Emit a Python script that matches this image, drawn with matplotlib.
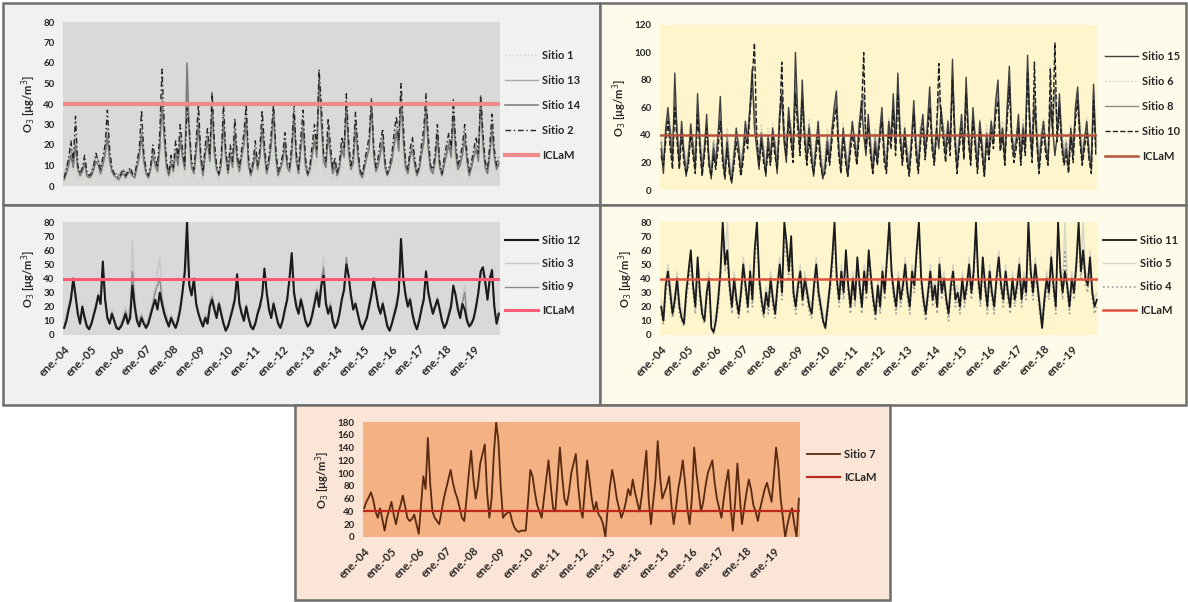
import matplotlib
matplotlib.use("Agg")
import matplotlib.pyplot as plt
from matplotlib.patches import Rectangle
import numpy as np

W, H = 1188, 602
plt.rcParams['font.family'] = ['Lato', 'DejaVu Sans']

# monthly values, ene.-04 ... dic.-19
year_labels = ['ene.-%02d' % y for y in range(4, 20)]
iclam = 40

sitio_1 = [2, 4, 7, 10, 6, 12, 5, 3, 4, 7, 3, 2,
           3, 5, 8, 7, 4, 6, 9, 14, 8, 4, 3, 2,
           2, 3, 4, 3, 4, 5, 3, 3, 6, 9, 15, 8,
           4, 3, 5, 10, 7, 4, 11, 22, 13, 5, 3, 7,
           4, 10, 6, 14, 8, 5, 20, 14, 5, 4, 10, 17,
           7, 3, 9, 13, 7, 20, 9, 4, 3, 6, 17, 8,
           4, 9, 5, 14, 7, 4, 8, 12, 18, 6, 3, 5,
           9, 4, 8, 16, 9, 3, 6, 11, 19, 8, 3, 5,
           7, 11, 5, 4, 9, 18, 7, 3, 10, 16, 6, 3,
           5, 9, 13, 8, 25, 17, 7, 5, 14, 9, 3, 6,
           3, 5, 10, 8, 21, 9, 4, 6, 16, 9, 3, 2,
           5, 8, 10, 19, 8, 4, 6, 9, 12, 5, 3, 4,
           7, 11, 14, 10, 22, 12, 5, 3, 8, 10, 6, 3,
           4, 8, 12, 20, 10, 4, 3, 7, 13, 5, 3, 6,
           8, 11, 8, 18, 9, 4, 6, 8, 12, 7, 3, 5,
           8, 10, 7, 20, 11, 5, 3, 8, 14, 8, 4, 6]
sitio_13 = [5, 9, 13, 18, 11, 24, 9, 6, 8, 12, 6, 5,
            7, 11, 14, 13, 9, 12, 17, 28, 15, 8, 6, 6,
            5, 7, 8, 6, 7, 8, 7, 6, 10, 15, 28, 14,
            7, 5, 9, 17, 12, 8, 20, 45, 26, 10, 6, 13,
            8, 18, 12, 26, 15, 9, 48, 27, 10, 7, 18, 34,
            14, 6, 17, 25, 13, 42, 18, 9, 6, 12, 35, 15,
            7, 17, 10, 28, 14, 8, 15, 23, 36, 12, 6, 10,
            18, 9, 15, 32, 17, 7, 12, 22, 38, 15, 6, 9,
            13, 22, 10, 8, 17, 36, 14, 7, 20, 32, 12, 6,
            9, 17, 25, 16, 54, 35, 14, 10, 28, 17, 7, 12,
            6, 10, 20, 16, 42, 18, 9, 13, 32, 17, 7, 5,
            10, 15, 20, 38, 17, 8, 12, 18, 25, 10, 6, 9,
            14, 22, 28, 19, 46, 25, 10, 7, 16, 20, 12, 6,
            9, 17, 24, 42, 20, 9, 7, 14, 27, 10, 6, 12,
            17, 22, 16, 38, 18, 9, 12, 17, 26, 14, 6, 10,
            16, 20, 14, 40, 22, 10, 7, 17, 30, 16, 9, 12]
sitio_14 = [3, 6, 10, 15, 9, 20, 8, 5, 7, 11, 5, 4,
            5, 8, 12, 10, 6, 10, 15, 24, 12, 7, 5, 4,
            3, 5, 6, 4, 6, 7, 5, 4, 9, 14, 25, 12,
            6, 4, 8, 15, 10, 7, 18, 40, 22, 9, 5, 11,
            7, 16, 10, 22, 14, 8, 60, 24, 9, 6, 16, 30,
            12, 5, 15, 22, 12, 38, 16, 8, 5, 10, 30, 14,
            6, 15, 9, 25, 12, 7, 14, 20, 32, 10, 5, 9,
            16, 8, 14, 28, 15, 6, 11, 20, 36, 14, 5, 8,
            12, 20, 9, 7, 15, 34, 12, 6, 18, 28, 10, 5,
            8, 15, 22, 14, 52, 30, 12, 9, 25, 15, 6, 10,
            5, 9, 18, 14, 40, 16, 8, 11, 28, 15, 6, 4,
            9, 14, 18, 42, 15, 7, 10, 16, 22, 9, 5, 8,
            12, 20, 26, 17, 44, 22, 9, 6, 14, 18, 10, 5,
            8, 15, 21, 38, 18, 8, 6, 12, 24, 9, 5, 10,
            15, 20, 14, 34, 16, 8, 10, 15, 23, 12, 5, 9,
            14, 18, 12, 44, 20, 9, 6, 15, 27, 14, 8, 11]
sitio_2 = [4, 8, 14, 22, 12, 34, 10, 6, 9, 15, 7, 5,
           6, 10, 16, 12, 8, 14, 20, 37, 18, 9, 6, 5,
           4, 6, 8, 5, 7, 9, 6, 5, 12, 18, 37, 16,
           8, 5, 10, 20, 14, 9, 26, 57, 30, 12, 6, 15,
           9, 22, 14, 30, 18, 10, 38, 28, 12, 8, 22, 40,
           16, 7, 20, 28, 15, 46, 22, 10, 6, 14, 40, 18,
           8, 20, 12, 33, 16, 9, 18, 26, 40, 14, 6, 12,
           22, 10, 18, 37, 20, 8, 14, 26, 40, 18, 7, 10,
           15, 26, 12, 9, 20, 40, 16, 8, 24, 37, 14, 6,
           10, 20, 30, 18, 57, 40, 16, 12, 33, 20, 8, 14,
           6, 12, 24, 18, 45, 22, 10, 15, 36, 20, 8, 5,
           12, 18, 24, 43, 20, 9, 14, 22, 28, 12, 6, 10,
           16, 26, 34, 22, 50, 30, 12, 8, 18, 24, 14, 6,
           10, 20, 28, 45, 24, 10, 8, 16, 30, 12, 6, 14,
           20, 26, 18, 42, 22, 10, 14, 20, 30, 16, 7, 12,
           18, 24, 16, 44, 26, 12, 8, 20, 35, 18, 10, 14]

sitio_15 = [30, 12, 45, 60, 38, 20, 85, 40, 18, 50, 25, 10,
            22, 48, 30, 15, 70, 35, 12, 28, 55, 20, 8, 30,
            18, 40, 68, 25, 10, 35, 15, 5, 22, 45, 30, 12,
            25, 50, 35, 60, 88, 45, 30, 15, 40, 25, 10, 38,
            20, 45, 30, 12, 55, 70, 35, 20, 60, 40, 25, 100,
            55, 30, 80, 40, 20, 45, 25, 10, 30, 50, 22, 8,
            15, 35, 20, 40, 60, 72, 30, 15, 45, 25, 10, 30,
            50, 35, 20, 45, 65, 40, 25, 55, 30, 12, 35, 20,
            40, 60, 25, 15, 50, 35, 70, 30, 85, 40, 20, 45,
            25, 12, 35, 65, 30, 15, 40, 55, 25, 48, 75, 35,
            20, 45, 30, 60, 40, 25, 50, 30, 95, 40, 15, 35,
            55, 25, 82, 40, 20, 60, 35, 15, 50, 30, 10, 40,
            25, 50, 35, 65, 80, 30, 45, 20, 60, 90, 40, 25,
            35, 55, 20, 45, 30, 98, 50, 25, 60, 40, 15, 35,
            50, 30, 20, 60, 45, 25, 40, 70, 35, 20, 30, 15,
            45, 25, 60, 75, 40, 20, 35, 50, 25, 15, 77, 30]
sitio_6 = [40, 28, 45, 58, 50, 35, 55, 48, 30, 50, 35, 22,
           32, 48, 40, 28, 62, 45, 25, 38, 52, 30, 18, 40,
           28, 42, 58, 35, 22, 45, 28, 15, 32, 45, 40, 25,
           35, 50, 45, 62, 70, 55, 45, 28, 48, 35, 22, 45,
           32, 48, 40, 25, 55, 90, 50, 35, 58, 50, 35, 75,
           55, 42, 72, 50, 35, 52, 35, 22, 40, 50, 32, 18,
           28, 45, 30, 50, 60, 68, 42, 28, 48, 35, 22, 40,
           50, 42, 30, 52, 62, 65, 38, 55, 40, 25, 45, 30,
           48, 58, 35, 28, 52, 45, 65, 40, 72, 50, 30, 48,
           35, 25, 42, 62, 40, 28, 50, 55, 35, 50, 65, 45,
           30, 50, 65, 58, 50, 35, 52, 40, 78, 50, 28, 42,
           55, 35, 70, 50, 30, 58, 45, 28, 52, 40, 22, 48,
           35, 52, 45, 62, 68, 40, 50, 32, 58, 75, 48, 35,
           42, 55, 30, 52, 40, 80, 52, 35, 65, 50, 28, 45,
           52, 38, 32, 90, 50, 70, 48, 62, 45, 32, 40, 28,
           48, 35, 58, 72, 50, 32, 42, 52, 35, 28, 62, 40]
sitio_8 = [35, 20, 40, 55, 45, 28, 65, 45, 25, 45, 30, 15,
           28, 42, 35, 20, 60, 40, 18, 32, 48, 25, 12, 35,
           22, 38, 55, 30, 15, 40, 20, 10, 28, 40, 35, 18,
           30, 45, 40, 58, 75, 60, 38, 22, 42, 30, 15, 40,
           25, 42, 35, 18, 50, 65, 45, 28, 55, 45, 30, 80,
           50, 35, 70, 45, 28, 48, 30, 15, 35, 45, 28, 12,
           20, 40, 25, 45, 55, 65, 35, 20, 42, 30, 15, 35,
           45, 38, 25, 48, 60, 70, 32, 50, 35, 18, 40, 25,
           42, 55, 30, 20, 48, 40, 62, 35, 75, 45, 25, 42,
           30, 18, 38, 60, 35, 20, 45, 50, 30, 45, 68, 40,
           25, 45, 70, 55, 45, 30, 48, 35, 85, 45, 20, 38,
           50, 30, 75, 45, 25, 55, 40, 20, 48, 35, 15, 42,
           30, 48, 40, 60, 72, 35, 45, 25, 55, 80, 42, 30,
           38, 50, 25, 48, 35, 88, 48, 28, 72, 45, 20, 40,
           48, 32, 25, 70, 45, 75, 42, 65, 40, 25, 35, 20,
           42, 30, 55, 70, 45, 25, 38, 48, 30, 20, 70, 35]
sitio_10 = [25, 18, 35, 50, 30, 15, 60, 35, 15, 40, 20, 12,
            18, 40, 25, 12, 55, 30, 10, 25, 45, 18, 10, 25,
            15, 30, 50, 20, 8, 30, 12, 6, 18, 35, 25, 10,
            20, 40, 30, 55, 80, 107, 40, 18, 35, 20, 12, 30,
            18, 38, 25, 15, 45, 93, 40, 25, 50, 35, 20, 70,
            45, 25, 65, 35, 18, 38, 20, 12, 25, 40, 18, 10,
            12, 30, 18, 35, 50, 60, 25, 12, 38, 20, 10, 25,
            40, 30, 18, 38, 55, 100, 30, 45, 25, 12, 30, 18,
            35, 50, 20, 12, 42, 30, 58, 25, 70, 35, 18, 38,
            20, 10, 30, 55, 25, 12, 35, 45, 22, 40, 60, 30,
            18, 40, 92, 50, 35, 20, 42, 25, 80, 35, 12, 30,
            45, 22, 70, 35, 18, 50, 30, 12, 42, 25, 10, 35,
            22, 42, 30, 55, 65, 28, 38, 18, 50, 75, 35, 20,
            30, 45, 18, 40, 25, 85, 42, 20, 93, 35, 12, 30,
            42, 25, 18, 88, 40, 107, 35, 60, 30, 18, 25, 12,
            38, 20, 50, 65, 35, 18, 30, 42, 22, 12, 65, 25]

sitio_12 = [5, 10, 18, 25, 40, 28, 15, 8, 20, 12, 6, 4,
            8, 14, 20, 28, 22, 52, 25, 12, 8, 15, 10, 5,
            4, 6, 10, 15, 8, 12, 35, 20, 10, 6, 12, 8,
            5, 8, 14, 20, 25, 18, 30, 22, 15, 10, 6, 12,
            8, 5, 10, 18, 30, 45, 80, 35, 28, 40, 22, 15,
            10, 6, 12, 8, 20, 25, 18, 12, 22, 15, 8, 3,
            6, 12, 18, 25, 43, 22, 15, 10, 20, 12, 6, 4,
            8, 15, 20, 28, 47, 30, 18, 12, 22, 15, 8, 5,
            10, 18, 25, 40, 58, 30, 20, 15, 25, 18, 10, 6,
            8, 14, 22, 30, 20, 35, 42, 22, 15, 20, 10, 5,
            8, 15, 25, 32, 50, 42, 28, 18, 22, 15, 8, 4,
            8, 12, 20, 28, 40, 30, 20, 15, 22, 14, 6, 3,
            8, 14, 20, 30, 68, 40, 28, 20, 25, 15, 8, 4,
            10, 18, 25, 45, 30, 22, 15, 20, 25, 18, 10, 5,
            8, 14, 20, 35, 28, 18, 12, 22, 18, 10, 6, 8,
            12, 20, 30, 45, 48, 38, 25, 40, 46, 20, 8, 15]
sitio_3 = [8, 15, 22, 30, 35, 25, 18, 12, 22, 15, 9, 6,
           10, 18, 24, 30, 25, 40, 28, 15, 10, 18, 12, 7,
           6, 9, 14, 20, 12, 25, 67, 30, 15, 10, 16, 10,
           8, 12, 18, 25, 35, 45, 55, 30, 20, 14, 9, 15,
           10, 8, 14, 22, 35, 40, 55, 38, 30, 35, 25, 18,
           12, 9, 15, 12, 25, 30, 22, 15, 25, 18, 10, 5,
           8, 15, 22, 28, 38, 25, 18, 14, 22, 15, 9, 6,
           10, 18, 24, 30, 40, 32, 22, 15, 25, 18, 10, 8,
           12, 20, 28, 38, 45, 32, 24, 18, 28, 22, 12, 8,
           10, 18, 25, 35, 28, 40, 55, 28, 18, 24, 14, 8,
           10, 18, 28, 35, 48, 40, 30, 22, 25, 18, 10, 6,
           10, 15, 24, 30, 38, 32, 24, 18, 25, 16, 9, 5,
           10, 18, 24, 32, 50, 45, 32, 24, 28, 18, 10, 6,
           12, 20, 28, 42, 32, 25, 18, 22, 28, 20, 12, 8,
           10, 18, 24, 32, 30, 22, 16, 25, 35, 14, 8, 10,
           15, 22, 32, 42, 40, 35, 28, 35, 40, 22, 10, 18]
sitio_9 = [6, 12, 20, 28, 38, 26, 16, 10, 20, 13, 7, 5,
           9, 15, 22, 28, 22, 45, 26, 13, 9, 16, 11, 6,
           5, 7, 12, 17, 10, 15, 45, 24, 12, 8, 14, 9,
           6, 10, 16, 22, 30, 35, 40, 25, 17, 12, 7, 13,
           9, 6, 12, 20, 32, 42, 65, 36, 28, 38, 23, 16,
           11, 7, 13, 10, 22, 27, 20, 13, 23, 16, 9, 4,
           7, 13, 20, 26, 40, 23, 16, 12, 21, 13, 7, 5,
           9, 16, 22, 29, 44, 31, 20, 13, 23, 16, 9, 6,
           11, 19, 26, 38, 52, 31, 22, 16, 26, 20, 11, 7,
           9, 16, 23, 32, 24, 38, 48, 25, 16, 22, 12, 6,
           9, 16, 26, 33, 55, 41, 29, 20, 23, 16, 9, 5,
           9, 13, 22, 29, 38, 31, 22, 16, 23, 15, 7, 4,
           9, 16, 22, 31, 60, 42, 30, 22, 26, 16, 9, 5,
           11, 19, 26, 44, 31, 23, 16, 21, 26, 19, 11, 6,
           9, 16, 22, 33, 29, 20, 14, 23, 30, 12, 7, 9,
           13, 21, 31, 43, 44, 36, 26, 38, 42, 21, 9, 16]

sitio_11 = [20, 10, 35, 45, 30, 15, 25, 40, 20, 12, 8, 30,
            45, 60, 35, 20, 55, 30, 15, 10, 30, 40, 5, 2,
            10, 25, 45, 80, 50, 60, 35, 20, 40, 25, 15, 30,
            50, 35, 20, 45, 25, 60, 80, 40, 25, 15, 30, 20,
            40, 25, 15, 35, 50, 30, 80, 65, 45, 70, 30, 20,
            35, 45, 25, 40, 30, 20, 15, 35, 50, 30, 20, 10,
            5, 20, 35, 55, 80, 40, 25, 45, 30, 60, 35, 20,
            40, 25, 55, 35, 20, 45, 30, 60, 40, 25, 15, 35,
            20, 45, 30, 55, 80, 45, 30, 20, 40, 25, 35, 50,
            30, 20, 45, 35, 60, 80, 40, 25, 15, 30, 45, 25,
            35, 20, 50, 30, 40, 25, 15, 35, 45, 25, 30, 20,
            40, 25, 35, 50, 30, 45, 80, 40, 25, 55, 35, 20,
            45, 30, 20, 40, 55, 35, 25, 45, 30, 20, 40, 25,
            35, 50, 25, 40, 30, 80, 45, 30, 50, 35, 20, 5,
            25, 40, 30, 55, 35, 20, 80, 45, 30, 45, 35, 20,
            40, 30, 50, 80, 45, 60, 40, 35, 55, 30, 20, 25]
sitio_5 = [25, 15, 40, 50, 38, 22, 30, 45, 25, 18, 12, 35,
           40, 55, 40, 25, 50, 35, 20, 15, 35, 45, 12, 8,
           15, 30, 50, 75, 55, 80, 40, 25, 45, 30, 20, 35,
           55, 40, 25, 50, 30, 55, 70, 45, 30, 20, 35, 25,
           45, 30, 20, 40, 55, 35, 75, 60, 50, 65, 35, 25,
           40, 50, 30, 45, 35, 25, 20, 40, 55, 35, 25, 15,
           12, 25, 40, 50, 70, 45, 30, 50, 35, 55, 40, 25,
           45, 30, 50, 40, 25, 50, 35, 55, 45, 30, 20, 40,
           25, 50, 35, 50, 70, 50, 35, 25, 45, 30, 40, 55,
           35, 25, 50, 40, 55, 70, 45, 30, 20, 35, 50, 30,
           40, 25, 55, 35, 45, 30, 20, 40, 50, 30, 35, 25,
           45, 30, 40, 55, 35, 50, 70, 45, 30, 50, 40, 25,
           50, 35, 25, 45, 60, 40, 30, 50, 35, 25, 45, 30,
           40, 55, 30, 45, 35, 70, 50, 35, 55, 40, 25, 12,
           30, 45, 35, 60, 40, 25, 70, 50, 35, 80, 40, 25,
           45, 35, 55, 70, 50, 80, 45, 40, 60, 35, 25, 30]
sitio_4 = [15, 8, 30, 40, 25, 12, 20, 35, 15, 10, 6, 25,
           35, 50, 30, 15, 45, 25, 12, 8, 25, 35, 4, 1,
           8, 20, 40, 70, 45, 55, 30, 15, 35, 20, 12, 25,
           45, 30, 15, 40, 20, 50, 75, 35, 20, 12, 25, 15,
           35, 20, 12, 30, 45, 25, 70, 55, 40, 60, 25, 15,
           30, 40, 20, 35, 25, 15, 12, 30, 45, 25, 15, 8,
           4, 15, 30, 45, 70, 35, 20, 40, 25, 50, 30, 15,
           35, 20, 50, 30, 15, 40, 25, 55, 35, 20, 10, 30,
           15, 40, 25, 50, 75, 40, 25, 15, 35, 20, 30, 45,
           25, 15, 40, 30, 55, 75, 35, 20, 10, 25, 40, 20,
           30, 15, 45, 25, 35, 20, 10, 30, 40, 20, 25, 15,
           35, 20, 30, 45, 25, 40, 75, 35, 20, 50, 30, 15,
           40, 25, 15, 35, 50, 30, 20, 40, 25, 15, 35, 20,
           30, 45, 20, 35, 25, 75, 40, 25, 45, 30, 15, 4,
           20, 35, 25, 50, 30, 15, 75, 40, 25, 60, 30, 15,
           35, 25, 45, 75, 40, 55, 35, 30, 50, 25, 15, 20]

sitio_7 = [45, 55, 62, 70, 58, 40, 30, 45, 28, 10, 30, 42,
           55, 35, 20, 38, 50, 65, 48, 30, 25, 28, 35, 20,
           5, 50, 95, 75, 155, 85, 40, 30, 25, 20, 40, 60,
           75, 90, 105, 85, 70, 60, 45, 30, 25, 60, 100, 135,
           90, 60, 80, 115, 130, 145, 70, 30, 60, 130, 180, 150,
           80, 30, 35, 38, 40, 25, 15, 10, 8, 10, 10, 10,
           55, 105, 95, 70, 50, 40, 30, 60, 90, 120, 80, 45,
           40, 90, 140, 95, 60, 50, 70, 100, 115, 130, 80, 45,
           30, 75, 120, 90, 60, 40, 55, 35, 30, 20, 0, 45,
           80, 105, 85, 60, 45, 30, 40, 55, 75, 65, 90, 70,
           55, 40, 65, 100, 135, 60, 20, 55, 90, 150, 95, 60,
           70, 80, 95, 50, 20, 45, 75, 95, 120, 85, 45, 20,
           60, 140, 100, 70, 40, 55, 80, 100, 110, 120, 85, 60,
           45, 30, 60, 85, 105, 50, 10, 55, 115, 65, 20, 45,
           70, 90, 75, 50, 40, 25, 45, 60, 75, 85, 70, 55,
           95, 140, 110, 60, 30, 0, 20, 35, 45, 20, 0, 60]

fig = plt.figure(figsize=(W / 100, H / 100), dpi=100)
fig.patch.set_facecolor('white')
TXT = '#262626'


def fbox(x0, y0, x1, y1):
    return [x0 / W, 1 - y1 / H, (x1 - x0) / W, (y1 - y0) / H]


def panel_bg(x0, y0, x1, y1, color):
    fig.patches.append(Rectangle((x0 / W, 1 - y1 / H), (x1 - x0) / W, (y1 - y0) / H,
                                 transform=fig.transFigure, facecolor=color,
                                 edgecolor='#6e6e6e', lw=1.8, zorder=-5))


panel_bg(3, 3, 600, 205, '#f1f1f1')
panel_bg(600, 3, 1186, 205, '#fffbea')
panel_bg(3, 205, 600, 405, '#f1f1f1')
panel_bg(600, 205, 1186, 405, '#fffbea')
panel_bg(295, 405, 890, 600, '#fbe5d6')

x = np.arange(len(sitio_7))


def setup(ax, face, ymax, ystep, xlabels):
    ax.set_facecolor(face)
    for s in ax.spines.values():
        s.set_visible(False)
    ax.set_xlim(-0.5, len(x) - 0.5)
    ax.set_ylim(0, ymax)
    ax.set_yticks(np.arange(0, ymax + 1, ystep))
    ax.tick_params(length=0, labelsize=7, colors=TXT, pad=6)
    for t in ax.get_yticklabels():
        t.set_fontweight('bold')
    ax.set_xticks(np.arange(0, len(x), 12))
    if xlabels:
        ax.set_xticklabels(year_labels, rotation=45, ha='right', va='top',
                           rotation_mode='anchor', fontsize=8, fontweight='bold')
    else:
        ax.set_xticklabels([])
    ax.set_ylabel('O$_3$ [µg/m$^3$]', fontsize=8, fontweight='bold',
                  color=TXT, labelpad=4)


def legend(ax, x0, ytop, order, spacing):
    h, l = ax.get_legend_handles_labels()
    leg = ax.legend([h[i] for i in order], [l[i] for i in order],
                    loc='upper left', bbox_to_anchor=(x0 / W, 1 - ytop / H),
                    bbox_transform=fig.transFigure, frameon=False,
                    fontsize=8, handlelength=3.0, handletextpad=0.3,
                    labelspacing=spacing, borderpad=0, borderaxespad=0)
    for t in leg.get_texts():
        t.set_fontweight('bold')
        t.set_color(TXT)


# Panel A
axA = fig.add_axes(fbox(63, 22, 500, 186))
setup(axA, '#d9d9d9', 80, 10, False)
axA.plot(x, sitio_1, color='#c5d6b8', ls=':', lw=1, label='Sitio 1')
axA.plot(x, sitio_13, color='#a8a8a8', lw=1, label='Sitio 13')
axA.plot(x, sitio_14, color='#7a7a7a', lw=1.1, label='Sitio 14')
axA.plot(x, sitio_2, color='#262626', ls=(0, (4, 2, 1, 2)), lw=1, label='Sitio 2')
axA.axhline(iclam, color='#ef8a8a', lw=3, label='ICLaM')
legend(axA, 505, 50, [0, 1, 2, 3, 4], 1.25)

# Panel B
axB = fig.add_axes(fbox(660, 25, 1097, 190))
setup(axB, '#fff5cc', 120, 20, False)
axB.plot(x, sitio_6, color='#cfcfbf', ls=':', lw=1, label='Sitio 6')
axB.plot(x, sitio_8, color='#8c8c8c', lw=1, label='Sitio 8')
axB.plot(x, sitio_15, color='#404040', lw=1, label='Sitio 15')
axB.plot(x, sitio_10, color='#1e1e1e', ls='--', lw=1, label='Sitio 10')
axB.axhline(iclam, color='#b5533c', lw=1.8, label='ICLaM')
legend(axB, 1105, 51, [2, 0, 1, 3, 4], 1.25)

# Panel C
axC = fig.add_axes(fbox(63, 222, 500, 335))
setup(axC, '#d9d9d9', 80, 10, True)
axC.plot(x, sitio_3, color='#c8c8c8', lw=1, label='Sitio 3')
axC.plot(x, sitio_9, color='#8a8a8a', lw=1, label='Sitio 9')
axC.plot(x, sitio_12, color='#1a1a1a', lw=1.5, label='Sitio 12')
axC.axhline(iclam, color='#ff5a78', lw=2.2, label='ICLaM')
legend(axC, 505, 235, [2, 0, 1, 3], 1.1)

# Panel D
axD = fig.add_axes(fbox(660, 222, 1098, 335))
setup(axD, '#fff5cc', 80, 10, True)
axD.plot(x, sitio_5, color='#d6d6c4', lw=1, label='Sitio 5')
axD.plot(x, sitio_4, color='#9a9a9a', ls=':', lw=1.2, label='Sitio 4')
axD.plot(x, sitio_11, color='#1a1a1a', lw=1.3, label='Sitio 11')
axD.axhline(iclam, color='#e0503c', lw=1.8, label='ICLaM')
legend(axD, 1103, 235, [2, 0, 1, 3], 1.1)

# Panel E
axE = fig.add_axes(fbox(363, 422, 800, 537))
setup(axE, '#f4b183', 180, 20, True)
axE.plot(x, sitio_7, color='#5a2a10', lw=1.3, label='Sitio 7')
axE.axhline(iclam, color='#c0281c', lw=1.6, label='ICLaM')
legend(axE, 807, 449, [0, 1], 1.1)

fig.savefig('out.png', dpi=100)
